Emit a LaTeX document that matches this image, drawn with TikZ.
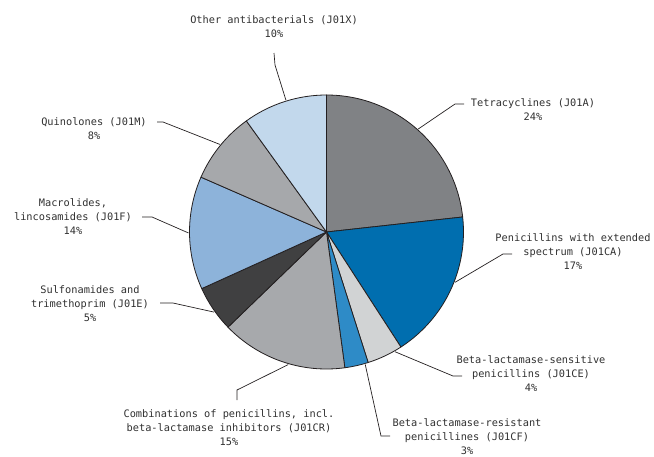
\documentclass[tikz,border=0pt]{standalone}
\usepackage{fontspec}
\setmonofont{DejaVu Sans Mono}
\usetikzlibrary{calc}
\definecolor{cTet}{HTML}{808285}
\definecolor{cPen}{HTML}{006EAF}
\definecolor{cBS}{HTML}{D1D3D4}
\definecolor{cBR}{HTML}{2E8BC7}
\definecolor{cComb}{HTML}{A7A9AC}
\definecolor{cSulf}{HTML}{404041}
\definecolor{cMac}{HTML}{8DB3DA}
\definecolor{cQuin}{HTML}{A6A8AB}
\definecolor{cOth}{HTML}{C2D8EC}
\definecolor{ink}{HTML}{231F20}
\definecolor{txt}{HTML}{303030}
\tikzset{
  lbl/.style={anchor=north, align=center, inner sep=0pt, text=txt,
    font=\ttfamily\fontsize{10.3}{14}\selectfont},
  leader/.style={draw=ink, line width=0.7pt},
  slice/.style={draw=ink, line width=0.8pt, line join=round}
}
\newcommand{\pieslice}[3]{%
  \filldraw[slice, fill=#3] (c) -- ($(c)+(#1:137pt)$) arc[start angle=#1, end angle=#2, radius=137pt] -- cycle;}
\begin{document}
\begin{tikzpicture}[x=1pt,y=-1pt]
\useasboundingbox (0,0) rectangle (654,456);
\coordinate (c) at (326.5,232);
\pieslice{90}{6.3}{cTet}
\pieslice{6.3}{-57.1}{cPen}
\pieslice{-57.1}{-72.3}{cBS}
\pieslice{-72.3}{-82.3}{cBR}
\pieslice{-82.3}{-136}{cComb}
\pieslice{-136}{-155.6}{cSulf}
\pieslice{-155.6}{-203.6}{cMac}
\pieslice{-203.6}{-234.2}{cQuin}
\pieslice{-234.2}{-270}{cOth}

% labels
\node[lbl] (oth) at (274,15) {Other antibacterials (J01X)\\10\%};
\node[lbl] (tet) at (533,98) {Tetracyclines (J01A)\\24\%};
\node[lbl] (pen) at (573,233) {Penicillins with extended\\spectrum (J01CA)\\17\%};
\node[lbl] (bs) at (531,355) {Beta-lactamase-sensitive\\penicillins (J01CE)\\4\%};
\node[lbl] (br) at (467,418) {Beta-lactamase-resistant\\penicillines (J01CF)\\3\%};
\node[lbl] (comb) at (229,409) {Combinations of penicillins, incl.\\beta-lactamase inhibitors (J01CR)\\15\%};
\node[lbl] (sulf) at (90,285) {Sulfonamides and\\trimethoprim (J01E)\\5\%};
\node[lbl] (mac) at (73,198) {Macrolides,\\lincosamides (J01F)\\14\%};
\node[lbl] (quin) at (94,117) {Quinolones (J01M)\\8\%};

% leader anchors
\coordinate (othA) at (274,53);
\coordinate (othB) at (275,65);
\coordinate (othE) at ($(c)+(107.1:138pt)$);
\coordinate (tetA) at (464,104);
\coordinate (tetB) at (455,104);
\coordinate (tetE) at ($(c)+(48.3:138pt)$);
\coordinate (penA) at (512,254);
\coordinate (penB) at (503,254);
\coordinate (penE) at ($(c)+(-21.4:138pt)$);
\coordinate (bsA) at (462,376);
\coordinate (bsB) at (453,376);
\coordinate (bsE) at ($(c)+(-60.2:138pt)$);
\coordinate (brA) at (390,436);
\coordinate (brB) at (381,436);
\coordinate (brE) at ($(c)+(-73.7:138pt)$);
\coordinate (combA) at (237,400);
\coordinate (combB) at (237,390);
\coordinate (combE) at ($(c)+(-106.1:138pt)$);
\coordinate (sulfA) at (160,303);
\coordinate (sulfB) at (173,303);
\coordinate (sulfE) at ($(c)+(-144.5:138pt)$);
\coordinate (macA) at (142,217);
\coordinate (macB) at (152,217);
\coordinate (macE) at ($(c)+(-179.6:138pt)$);
\coordinate (quinA) at (157,122);
\coordinate (quinB) at (163,122);
\coordinate (quinE) at ($(c)+(140.6:138pt)$);

\draw[leader] (othA) -- (othB) -- (othE);
\draw[leader] (tetA) -- (tetB) -- (tetE);
\draw[leader] (penA) -- (penB) -- (penE);
\draw[leader] (bsA) -- (bsB) -- (bsE);
\draw[leader] (brA) -- (brB) -- (brE);
\draw[leader] (combA) -- (combB) -- (combE);
\draw[leader] (sulfA) -- (sulfB) -- (sulfE);
\draw[leader] (macA) -- (macB) -- (macE);
\draw[leader] (quinA) -- (quinB) -- (quinE);
\end{tikzpicture}
\end{document}
